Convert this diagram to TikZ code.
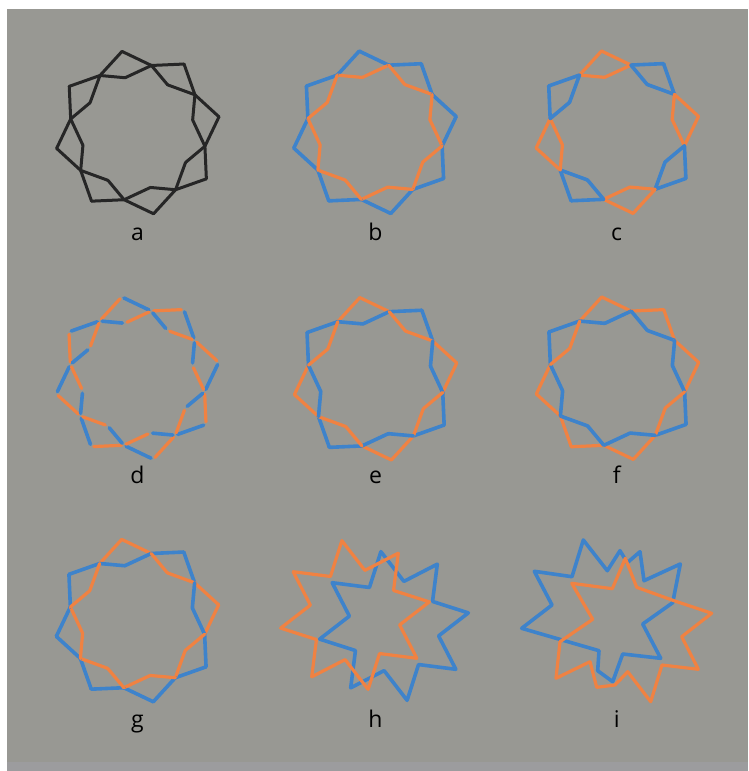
\documentclass[tikz,border=0pt]{standalone}
\usepackage{fontspec}
\setsansfont{Open Sans}
\usepackage{xcolor}
\usepackage{tikz}
\usetikzlibrary{calc}
\definecolor{panelgray}{RGB}{152,152,147}
\definecolor{stripgray}{RGB}{156,156,158}
\definecolor{ringblue}{RGB}{62,131,203}
\definecolor{ringorange}{RGB}{240,130,66}
\tikzset{
  blkln/.style={line width=3pt,black!85,line cap=round,line join=round},
  bluln/.style={line width=3.6pt,ringblue,line cap=round,line join=round},
  orgln/.style={line width=3.2pt,ringorange,line cap=round,line join=round},
  bluseg/.style={bluln,shorten <=2.5pt,shorten >=2.5pt},
  orgseg/.style={orgln,shorten <=2.5pt,shorten >=2.5pt},
  panlbl/.style={font=\sffamily\fontsize{23}{23}\selectfont,anchor=base,inner sep=0pt},
}
% tip T, crossing X and inner corner I of the eight units of a ring
\newcommand{\quadpts}[3]{%
  \foreach \j in {0,...,7}{
    \coordinate (#1T\j) at ($(#2,#3)+({-101+45*\j}:82.7)$);
    \coordinate (#1X\j) at ($(#2,#3)+({-78.5+45*\j}:68.5)$);
    \coordinate (#1I\j) at ($(#2,#3)+({-103+45*\j}:56.3)$);
  }}
\newcommand{\quadedges}[2]{%
  \foreach \j/\sa/\sb/\sc/\sd in {#2}{
    \pgfmathtruncatemacro{\i}{mod(\j+7,8)}
    \draw[\sa] (#1X\i) -- (#1T\j);
    \draw[\sb] (#1T\j) -- (#1X\j);
    \draw[\sc] (#1X\i) -- (#1I\j);
    \draw[\sd] (#1I\j) -- (#1X\j);
  }}
% points P and valleys V of an eight-pointed star
\newcommand{\starpts}[3]{%
  \foreach \k in {0,...,7}{
    \coordinate (#1P\k) at ($(#2,#3)+({-100+45*\k}:75.5)$);
    \coordinate (#1V\k) at ($(#2,#3)+({-77.5+45*\k}:45.7)$);
  }}

\begin{document}
\begin{tikzpicture}[x=1pt,y=-1pt]
  \useasboundingbox (0,0) rectangle (748,771);
  \fill[white] (0,0) rectangle (748,771);
  \fill[panelgray] (7,9) rectangle (748,771);
  \fill[stripgray] (7,762) rectangle (748,771);

  % a
  \quadpts{a}{137.8}{132.6}
  \quadedges{a}{0/blkln/blkln/blkln/blkln,1/blkln/blkln/blkln/blkln,
    2/blkln/blkln/blkln/blkln,3/blkln/blkln/blkln/blkln,
    4/blkln/blkln/blkln/blkln,5/blkln/blkln/blkln/blkln,
    6/blkln/blkln/blkln/blkln,7/blkln/blkln/blkln/blkln}
  % b
  \quadpts{b}{375}{132.3}
  \quadedges{b}{0/bluln/bluln/orgln/orgln,1/bluln/bluln/orgln/orgln,
    2/bluln/bluln/orgln/orgln,3/bluln/bluln/orgln/orgln,
    4/bluln/bluln/orgln/orgln,5/bluln/bluln/orgln/orgln,
    6/bluln/bluln/orgln/orgln,7/bluln/bluln/orgln/orgln}
  % c
  \quadpts{c}{617.3}{132.2}
  \quadedges{c}{0/orgln/orgln/orgln/orgln,1/bluln/bluln/bluln/bluln,
    2/orgln/orgln/orgln/orgln,3/bluln/bluln/bluln/bluln,
    4/orgln/orgln/orgln/orgln,5/bluln/bluln/bluln/bluln,
    6/orgln/orgln/orgln/orgln,7/bluln/bluln/bluln/bluln}
  % d
  \quadpts{d}{137.5}{378.1}
  \quadedges{d}{0/orgseg/bluseg/bluseg/orgseg,1/orgseg/bluseg/bluseg/orgseg,
    2/orgseg/bluseg/bluseg/orgseg,3/orgseg/bluseg/bluseg/orgseg,
    4/orgseg/bluseg/bluseg/orgseg,5/orgseg/bluseg/bluseg/orgseg,
    6/orgseg/bluseg/bluseg/orgseg,7/orgseg/bluseg/bluseg/orgseg}
  % e
  \quadpts{e}{375.6}{378.8}
  \quadedges{e}{0/orgln/orgln/bluln/bluln,1/bluln/bluln/orgln/orgln,
    2/orgln/orgln/bluln/bluln,3/bluln/bluln/orgln/orgln,
    4/orgln/orgln/bluln/bluln,5/bluln/bluln/orgln/orgln,
    6/orgln/orgln/bluln/bluln,7/bluln/bluln/orgln/orgln}
  % f
  \quadpts{f}{617.5}{378.2}
  \quadedges{f}{0/orgln/orgln/bluln/bluln,1/orgln/orgln/bluln/bluln,
    2/orgln/orgln/bluln/bluln,3/bluln/bluln/orgln/orgln,
    4/orgln/orgln/bluln/bluln,5/orgln/orgln/bluln/bluln,
    6/orgln/orgln/bluln/bluln,7/bluln/bluln/orgln/orgln}
  % g
  \quadpts{g}{137.5}{620.6}
  \quadedges{g}{0/orgln/orgln/bluln/bluln,1/bluln/bluln/orgln/orgln,
    2/orgln/orgln/bluln/bluln,3/bluln/bluln/orgln/orgln,
    4/bluln/bluln/orgln/orgln,5/bluln/bluln/orgln/orgln,
    6/bluln/bluln/orgln/orgln,7/bluln/bluln/orgln/orgln}
  % h
  \starpts{hb}{394}{626}
  \starpts{ho}{355}{615}
  \draw[bluln] (hbP0) -- (hbV0) \foreach \k in {1,...,7}{ -- (hbP\k) -- (hbV\k)} -- cycle;
  \draw[orgln] (hoP0) -- (hoV0) \foreach \k in {1,...,7}{ -- (hoP\k) -- (hoV\k)} -- cycle;
  % i
  \draw[bluln] (521.7,628.3) -- (552,605) -- (534.3,571.3) -- (572,576.7)
    -- (583.3,540) -- (607.3,570.7) -- (620,550.7) -- (627.3,562.7)
    -- (640,551.7) -- (644,580.7) -- (680.3,564) -- (672.7,602.7)
    -- (642.7,624) -- (660.7,658.3) -- (622.7,654) -- (612.7,681.7)
    -- (597.7,670.7) -- (599,650.7) -- cycle;
  \draw[orgln] (571.7,583.3) -- (612.3,588.7) -- (625.3,558.3) -- (636.7,587.3)
    -- (674,600.7) -- (711.7,613.3) -- (681.7,636.7) -- (698.3,669.3)
    -- (662,665) -- (650.7,701.7) -- (627.7,671.7) -- (615,685)
    -- (596.7,687.3) -- (590,661.7) -- (556,678.3) -- (560,641.7)
    -- (592.7,619.3) -- cycle;

  \node[panlbl] (la) at (137.5,240) {a};
  \node[panlbl] (lb) at (375.5,240) {b};
  \node[panlbl] (lc) at (616.7,240) {c};
  \node[panlbl] (ld) at (137.5,483) {d};
  \node[panlbl] (le) at (375.5,483) {e};
  \node[panlbl] (lf) at (616.7,483) {f};
  \node[panlbl] (lg) at (137.5,727) {g};
  \node[panlbl] (lh) at (375.5,727) {h};
  \node[panlbl] (li) at (616.7,727) {i};
\end{tikzpicture}
\end{document}
